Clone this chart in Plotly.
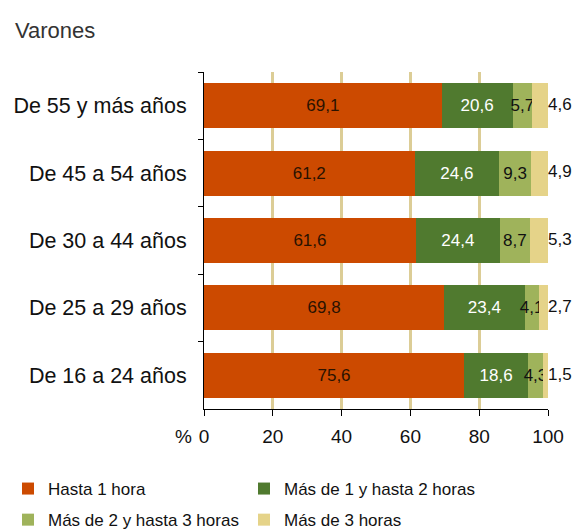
import plotly.graph_objects as go

categories = ["De 55 y más años", "De 45 a 54 años", "De 30 a 44 años",
              "De 25 a 29 años", "De 16 a 24 años"]
hasta_1 = [69.1, 61.2, 61.6, 69.8, 75.6]
de_1_a_2 = [20.6, 24.6, 24.4, 23.4, 18.6]
de_2_a_3 = [5.7, 9.3, 8.7, 4.1, 4.3]
mas_3 = [4.6, 4.9, 5.3, 2.7, 1.5]
series_names = ["Hasta 1 hora", "Más de 1 y hasta 2 horas",
                "Más de 2 y hasta 3 horas", "Más de 3 horas"]
x_ticks = [0, 20, 40, 60, 80, 100]

colors = ["#CC4A00", "#507A2F", "#9FB35B", "#E5D389"]
text_colors = ["#2a1200", "#FFFFFF", "#111111", "#111111"]
legend_ids = ["legend", "legend2", "legend", "legend2"]

def fmt(v):
    return f"{v:.1f}".replace(".", ",")

FONT = "Liberation Sans, Arial, sans-serif"

fig = go.Figure()
all_series = [hasta_1, de_1_a_2, de_2_a_3, mas_3]
for i, (name, vals) in enumerate(zip(series_names, all_series)):
    show_text = i < 3
    fig.add_trace(go.Bar(
        y=categories, x=vals, name=name, orientation="h",
        marker=dict(color=colors[i], line=dict(width=0)),
        text=[fmt(v) for v in vals] if show_text else None,
        textposition="inside" if show_text else "none",
        insidetextanchor="middle",
        constraintext="none", textangle=0,
        textfont=dict(family=FONT, size=17, color=text_colors[i]),
        hoverinfo="skip",
        legend=legend_ids[i], legendgroup=f"g{i}",
    ))

# outside labels for last series, placed at end of stack
totals = [round(a + b + c + d, 6) for a, b, c, d in zip(hasta_1, de_1_a_2, de_2_a_3, mas_3)]
fig.add_trace(go.Scatter(
    x=totals, y=categories, mode="text",
    text=[fmt(v) for v in mas_3], textposition="middle right",
    textfont=dict(family=FONT, size=17, color="#111111"),
    showlegend=False, cliponaxis=False, hoverinfo="skip",
))

leg_common = dict(
    orientation="v", xref="container", yref="container",
    xanchor="left", yanchor="top",
    font=dict(family=FONT, size=17, color="#111111"),
    itemclick=False, traceorder="grouped", tracegroupgap=6,
    bgcolor="rgba(0,0,0,0)",
)

fig.update_layout(
    barmode="stack",
    bargap=0.33,
    width=582, height=532,
    margin=dict(l=196, r=42, t=64, b=131, autoexpand=False),
    paper_bgcolor="white", plot_bgcolor="white",
    font=dict(family=FONT, size=17, color="#111111"),
    showlegend=True,
    title=dict(text="Varones", xref="container", yref="container",
               x=7/582, y=1-22/532, xanchor="left", yanchor="middle",
               font=dict(family=FONT, size=22, color="#333333")),
    legend=dict(leg_common, x=0.0, y=1-463/532),
    legend2=dict(leg_common, x=236/582, y=1-463/532),
    annotations=[
        dict(text="%", xref="paper", yref="paper",
             x=-0.061, y=-0.083, xanchor="center", yanchor="middle",
             showarrow=False, font=dict(family=FONT, size=19, color="#111111")),
    ],
)
fig.update_xaxes(
    range=[0, 100], tickvals=x_ticks, ticktext=[str(t) for t in x_ticks],
    showgrid=True, gridcolor="#DCCD96", gridwidth=3,
    showline=True, linecolor="black", linewidth=1,
    ticks="outside", ticklen=6, tickcolor="black",
    tickfont=dict(family=FONT, size=19, color="#111111"),
    ticklabelstandoff=4,
    zeroline=False, fixedrange=True, automargin=False,
)
fig.update_yaxes(
    autorange="reversed",
    showline=True, linecolor="black", linewidth=1,
    ticks="outside", tickson="boundaries", ticklen=5, tickcolor="black",
    tickfont=dict(family=FONT, size=21.5, color="#111111"),
    ticklabelstandoff=12,
    showgrid=False, fixedrange=True, automargin=False,
)

fig.write_html("out.html")
